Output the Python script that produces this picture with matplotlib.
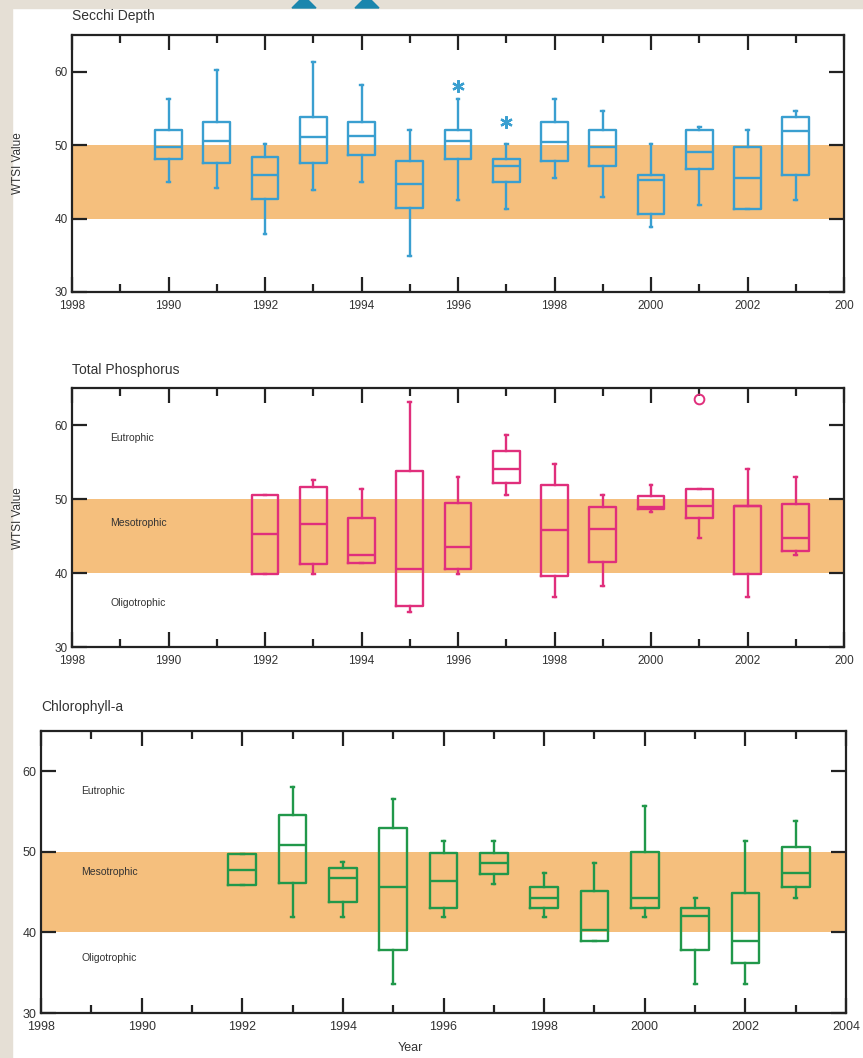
import matplotlib
matplotlib.use("Agg")
import matplotlib.pyplot as plt
from matplotlib.patches import Polygon, Rectangle
from matplotlib.ticker import FixedLocator

plt.rcParams['font.family'] = ['Liberation Sans', 'DejaVu Sans']

years = [1990, 1991, 1992, 1993, 1994, 1995, 1996, 1997, 1998, 1999, 2000, 2001, 2002, 2003]
tp_years = years[2:]
chl_years = years[2:]

# Secchi depth
sd_lo  = [45.0, 44.2, 37.9, 43.9, 45.0, 34.9, 42.5, 41.3, 45.5, 42.9, 38.8, 41.8, 41.3, 42.5]
sd_q1  = [48.1, 47.6, 42.6, 47.6, 48.7, 41.5, 48.1, 45.0, 47.8, 47.2, 40.6, 46.7, 41.3, 46.0]
sd_med = [49.7, 50.6, 45.9, 51.1, 51.3, 44.7, 50.6, 47.2, 50.4, 49.7, 45.2, 49.1, 45.5, 51.9]
sd_q3  = [52.0, 53.2, 48.4, 53.9, 53.2, 47.8, 52.0, 48.1, 53.2, 52.0, 46.0, 52.0, 49.7, 53.9]
sd_hi  = [56.3, 60.2, 50.1, 61.3, 58.2, 52.0, 56.3, 50.1, 56.3, 54.7, 50.1, 52.5, 52.0, 54.7]
sd_out = {1996: [58.1], 1997: [53.1]}

# Total phosphorus
tp_lo  = [39.8, 39.9, 41.3, 34.7, 39.9, 50.5, 36.7, 38.3, 48.3, 44.7, 36.7, 42.4]
tp_q1  = [39.8, 41.2, 41.3, 35.6, 40.5, 52.2, 39.6, 41.5, 48.6, 47.4, 39.8, 43.0]
tp_med = [45.3, 46.6, 42.4, 40.6, 43.5, 54.1, 45.8, 46.0, 48.9, 49.0, 49.0, 44.7]
tp_q3  = [50.5, 51.6, 47.5, 53.8, 49.4, 56.5, 51.9, 48.9, 50.4, 51.3, 49.0, 49.3]
tp_hi  = [50.5, 52.5, 51.3, 63.1, 53.0, 58.6, 54.7, 50.5, 51.9, 51.3, 54.1, 53.0]
tp_out = {2001: [63.5]}

# Chlorophyll-a
chl_lo  = [45.9, 41.9, 41.9, 33.6, 41.9, 46.0, 41.9, 38.9, 41.9, 33.6, 33.6, 44.3]
chl_q1  = [45.9, 46.1, 43.8, 37.8, 43.0, 47.3, 43.0, 38.9, 43.0, 37.8, 36.2, 45.7]
chl_med = [47.8, 50.9, 46.7, 45.7, 46.4, 48.6, 44.3, 40.3, 44.3, 42.0, 38.9, 47.4]
chl_q3  = [49.7, 54.6, 48.0, 53.0, 49.9, 49.8, 45.7, 45.2, 50.0, 43.0, 44.9, 50.6]
chl_hi  = [49.7, 58.0, 48.7, 56.5, 51.3, 51.3, 47.4, 48.6, 55.7, 44.3, 51.3, 53.8]

xtick_pos = [1988, 1990, 1992, 1994, 1996, 1998, 2000, 2002, 2004]
xlabels_top = ['1998', '1990', '1992', '1994', '1996', '1998', '2000', '2002', '200']
xlabels_bottom = ['1998', '1990', '1992', '1994', '1996', '1998', '2000', '2002', '2004']

band_color = '#f5bf7d'
W, H = 863, 1058


def make_stats(yrs, lo, q1, med, q3, hi, out):
    stats = []
    for i, y in enumerate(yrs):
        stats.append(dict(whislo=lo[i], q1=q1[i], med=med[i], q3=q3[i],
                          whishi=hi[i], fliers=out.get(y, [])))
    return stats


def draw_panel(ax, yrs, stats, color, flier_marker, xlabels, tick_fs):
    ax.axhspan(40, 50, color=band_color, lw=0, zorder=0)
    lp = dict(color=color, linewidth=1.7)
    if flier_marker == 'o':
        fp = dict(marker='o', markeredgecolor=color, markerfacecolor='none',
                  markersize=7, linestyle='none', markeredgewidth=1.4)
    else:
        # asterisk
        fp = dict(marker=(6, 2, 0), markeredgecolor=color, markerfacecolor=color,
                  markersize=9, linestyle='none', markeredgewidth=1.6)
    ax.bxp(stats, positions=yrs, widths=0.55, boxprops=lp, medianprops=lp,
           whiskerprops=lp, capprops=lp, flierprops=fp, capwidths=0.06,
           manage_ticks=False)
    ax.set_xlim(1988, 2004)
    ax.set_ylim(30, 65)
    ax.set_yticks([30, 40, 50, 60])
    ax.xaxis.set_major_locator(FixedLocator(xtick_pos))
    ax.xaxis.set_minor_locator(FixedLocator(list(range(1989, 2004, 2))))
    ax.set_xticklabels(xlabels)
    ax.tick_params(which='both', direction='in', top=True, right=True,
                   width=1.6, color='#222222', labelsize=tick_fs, labelcolor='#333333')
    ax.tick_params(which='major', axis='x', length=11, pad=6)
    ax.tick_params(which='minor', axis='x', length=6)
    ax.tick_params(which='major', axis='y', length=11, pad=3)
    for s in ax.spines.values():
        s.set_linewidth(1.6)
        s.set_color('#222222')


fig = plt.figure(figsize=(W / 100, H / 100), dpi=100, facecolor='white')

# beige border strips and cut-off heading fragments
fig.patches.append(Rectangle((0, 0), 12 / W, 1, transform=fig.transFigure, color='#e5dfd5', zorder=-5))
fig.patches.append(Rectangle((0, 1 - 8 / H), 1, 8 / H, transform=fig.transFigure, color='#e5dfd5', zorder=-5))
for x0 in (292, 355):
    pts = [(x0 / W, 1 - 8 / H), ((x0 + 8) / W, 1), ((x0 + 16) / W, 1), ((x0 + 24) / W, 1 - 8 / H)]
    fig.patches.append(Polygon(pts, closed=True, transform=fig.transFigure, color='#1b86ad'))

ax1 = fig.add_axes([72 / W, 1 - 292 / H, 772 / W, 257 / H])
ax2 = fig.add_axes([72 / W, 1 - 647 / H, 772 / W, 259 / H])
ax3 = fig.add_axes([41 / W, 1 - 1013 / H, 805 / W, 282 / H])

draw_panel(ax1, years, make_stats(years, sd_lo, sd_q1, sd_med, sd_q3, sd_hi, sd_out),
           '#3a9fd0', '*', xlabels_top, 8.5)
draw_panel(ax2, tp_years, make_stats(tp_years, tp_lo, tp_q1, tp_med, tp_q3, tp_hi, tp_out),
           '#e02f7c', 'o', xlabels_top, 8.5)
draw_panel(ax3, chl_years, make_stats(chl_years, chl_lo, chl_q1, chl_med, chl_q3, chl_hi, {}),
           '#21984a', 'o', xlabels_bottom, 9)

for ax, ys in ((ax2, (58.2, 46.8, 36.0)), (ax3, (57.5, 47.5, 36.8))):
    for name, yv in zip(('Eutrophic', 'Mesotrophic', 'Oligotrophic'), ys):
        ax.text(1988.8, yv, name, fontsize=7.5, color='#333333', va='center', ha='left')

fig.text(72 / W, 1 - 16 / H, 'Secchi Depth', fontsize=10, color='#333333', va='center')
fig.text(72 / W, 1 - 370 / H, 'Total Phosphorus', fontsize=10, color='#333333', va='center')
fig.text(41 / W, 1 - 707 / H, 'Chlorophyll-a', fontsize=10, color='#333333', va='center')
fig.text(18 / W, 1 - 163 / H, 'WTSI Value', fontsize=8.5, color='#333333', rotation=90, va='center', ha='center')
fig.text(18 / W, 1 - 518 / H, 'WTSI Value', fontsize=8.5, color='#333333', rotation=90, va='center', ha='center')
fig.text(410 / W, 1 - 1048 / H, 'Year', fontsize=9, color='#333333', va='center', ha='center')

fig.savefig('out.png', dpi=100, facecolor='white')
